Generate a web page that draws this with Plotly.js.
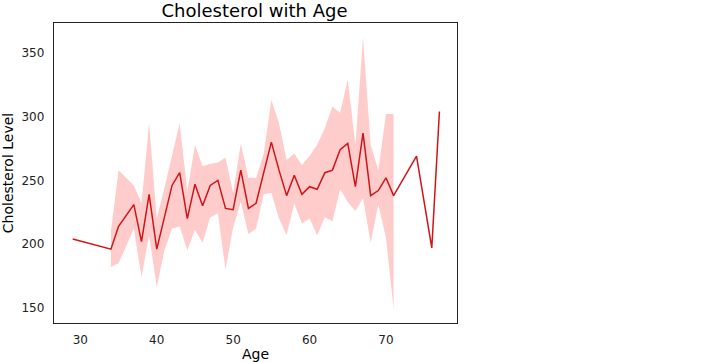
<!DOCTYPE html>
<html>
<head>
<meta charset="utf-8">
<script src="https://cdn.plot.ly/plotly-3.0.1.min.js"></script>
<style>html,body{margin:0;padding:0;background:#fff;}#chart{width:720px;height:362px;}</style>
</head>
<body>
<div id="chart"></div>
<script>
// Age groups and mean cholesterol per age
var ages = [29,34,35,37,38,39,40,41,42,43,44,45,46,47,48,49,50,51,52,53,54,55,56,57,58,59,60,61,62,63,64,65,66,67,68,69,70,71,74,76,77];
var cholMean = [204,196,214,231,202,239,196,221,246,256,220,247,230,246,250,228,227,258,228,232,256,280,258,238,254,239,245,243,256,258,274,279,245,287,238,242,252,238,269,197,304];
// 95% confidence interval bounds (null where only one sample)
var ciUpper = [null,210,258,246,232,295,220,244,270,295,241,278,261,263,264,268,240,279,252,252,271,313,295,266,271,262,269,278,291,308,303,329,278,362,278,258,302,302,null,null,null];
var ciLower = [null,182,185,212,174,207,166,195,212,214,195,211,201,221,224,180,213,233,208,212,239,240,220,207,232,216,220,207,221,218,243,233,226,236,201,231,205,149,null,null,null];
var xTicks = [30,40,50,60,70];
var yTicks = [150,200,250,300,350];

var bx = [], bu = [], bl = [];
for (var i = 0; i < ages.length; i++) {
  if (ciUpper[i] !== null && ciLower[i] !== null) {
    bx.push(ages[i]); bu.push(ciUpper[i]); bl.push(ciLower[i]);
  }
}
var polyX = bx.concat(bx.slice().reverse());
var polyY = bu.concat(bl.slice().reverse());

var font = "DejaVu Sans, sans-serif";
var traces = [
  {x: polyX, y: polyY, type: 'scatter', mode: 'lines', fill: 'toself',
   fillcolor: 'rgba(255,0,0,0.2)', line: {width: 0}, hoverinfo: 'skip', showlegend: false},
  {x: ages, y: cholMean, type: 'scatter', mode: 'lines',
   line: {color: 'rgb(208,20,24)', width: 1.5}, showlegend: false}
];
var layout = {
  width: 720, height: 362,
  paper_bgcolor: '#fff', plot_bgcolor: '#fff',
  margin: {l: 54.3, r: 263.3, t: 22.7, b: 39.3, pad: 0},
  font: {family: font, color: '#000', size: 12},
  title: {text: 'Cholesterol with Age', font: {family: font, size: 18, color: '#000'},
          xref: 'container', yref: 'container', x: 0.3535, y: 0.97, xanchor: 'center', yanchor: 'middle'},
  xaxis: {range: [26.55, 79.3], tickvals: xTicks, ticktext: xTicks.map(String),
          showgrid: false, zeroline: false, showline: true, mirror: true,
          linecolor: '#222', linewidth: 1.25, ticks: 'outside', ticklen: 5, tickcolor: 'rgba(0,0,0,0)',
          tickfont: {size: 12, color: '#222'},
          title: {text: 'Age', font: {size: 14, color: '#000'}, standoff: 4}},
  yaxis: {range: [138.1, 373.4], tickvals: yTicks, ticktext: yTicks.map(String),
          showgrid: false, zeroline: false, showline: true, mirror: true,
          linecolor: '#222', linewidth: 1.25, ticks: 'outside', ticklen: 6, tickcolor: 'rgba(0,0,0,0)',
          tickfont: {size: 12, color: '#222'},
          title: {text: 'Cholesterol Level', font: {size: 14, color: '#000'}, standoff: 6}}
};
Plotly.newPlot('chart', traces, layout, {staticPlot: true, displayModeBar: false});
</script>
</body>
</html>
